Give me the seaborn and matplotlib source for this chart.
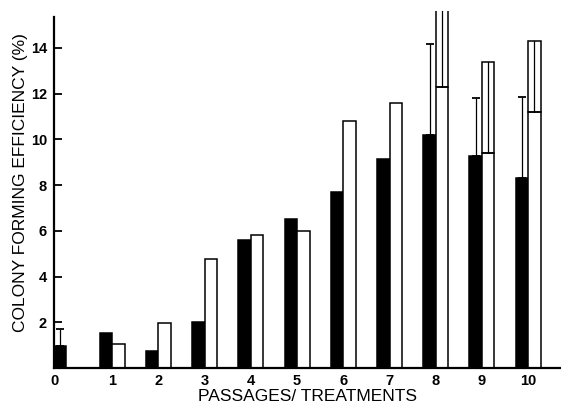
import matplotlib
matplotlib.use("Agg")
import matplotlib.pyplot as plt
from matplotlib.patches import Rectangle
import numpy as np
import pandas as pd
import seaborn as sns

# Colony forming efficiency (%) per passage / treatment
passages = ["0", "1", "2", "3", "4", "5", "6", "7", "8", "9", "10"]
solid_vals = [0.95, 1.55, 0.75, 2.0, 5.6, 6.5, 7.7, 9.15, 10.2, 9.25, 8.3]
open_vals = [np.nan, 1.05, 1.95, 4.75, 5.8, 6.0, 10.8, 11.6, 12.3, 9.4, 11.2]
solid_err = [0.75, 0, 0, 0, 0, 0, 0, 0, 3.95, 2.55, 3.55]
open_err = [0, 0, 0, 0, 0, 0, 0, 0, 4.5, 4.0, 3.1]
y_ticks = [2, 4, 6, 8, 10, 12, 14]

df = pd.DataFrame({
    "passage": passages * 2,
    "group": ["solid"] * len(passages) + ["open"] * len(passages),
    "value": solid_vals + open_vals,
})

sns.set_style("white")
plt.rcParams["font.family"] = ["Liberation Sans", "DejaVu Sans"]
plt.rcParams["text.color"] = "black"
plt.rcParams["axes.labelcolor"] = "black"

fig = plt.figure(figsize=(5.61, 4.08), dpi=100)
ax = fig.add_axes([0.0963, 0.0978, 0.9037, 0.8748])

lw = 1.1
sns.barplot(data=df, x="passage", y="value", hue="group",
            order=passages, hue_order=["solid", "open"],
            palette={"solid": "black", "open": "white"},
            edgecolor="black", linewidth=lw, width=0.54,
            errorbar=None, legend=False, ax=ax)


def category_of(center):
    return min(range(len(passages)), key=lambda k: abs(k - center))


# error bars on the solid bars
for bar in ax.containers[0]:
    h = bar.get_height()
    if not np.isfinite(h):
        continue
    cx = bar.get_x() + bar.get_width() / 2
    e = solid_err[category_of(cx + bar.get_width() / 2)]
    if e > 0:
        ax.errorbar(cx, h, yerr=[[0], [e]], fmt="none", ecolor="black",
                    elinewidth=0.9, capsize=3.2, capthick=1.3, zorder=3)

# open error "boxes" stacked on the open bars
for bar in ax.containers[1]:
    h = bar.get_height()
    if not np.isfinite(h):
        continue
    x0, w = bar.get_x(), bar.get_width()
    cx = x0 + w / 2
    e = open_err[category_of(x0)]
    if e > 0:
        ax.add_patch(Rectangle((x0, h), w, e, fill=False,
                               edgecolor="black", linewidth=lw, zorder=3))
        ax.plot([cx, cx], [h, h + e], color="black", lw=0.9, zorder=3)

ax.set_xlim(-0.26, 10.71)
ax.set_ylim(0, 15.6)

for s in ["top", "right"]:
    ax.spines[s].set_visible(False)
ax.spines["left"].set_bounds(0, 15.35)
for s in ["left", "bottom"]:
    ax.spines[s].set_linewidth(1.6)
    ax.spines[s].set_color("black")

ax.set_yticks(y_ticks)
ax.set_yticklabels([str(t) for t in y_ticks], fontsize=10.5, fontweight="bold")
ax.tick_params(axis="y", direction="in", length=5.5, width=1.3,
               pad=5, colors="black", left=True)

ax.set_xticks([-0.26] + list(range(1, len(passages))))
ax.set_xticklabels(passages, fontsize=10.5, fontweight="bold")
ax.tick_params(axis="x", length=0, pad=4, colors="black")

ax.set_xlabel("PASSAGES/ TREATMENTS", fontsize=12.5, labelpad=1)
ax.set_ylabel("COLONY FORMING EFFICIENCY (%)", fontsize=12.5)
ax.yaxis.set_label_coords(-0.052, 0.52)

fig.savefig("out.png", dpi=100)
